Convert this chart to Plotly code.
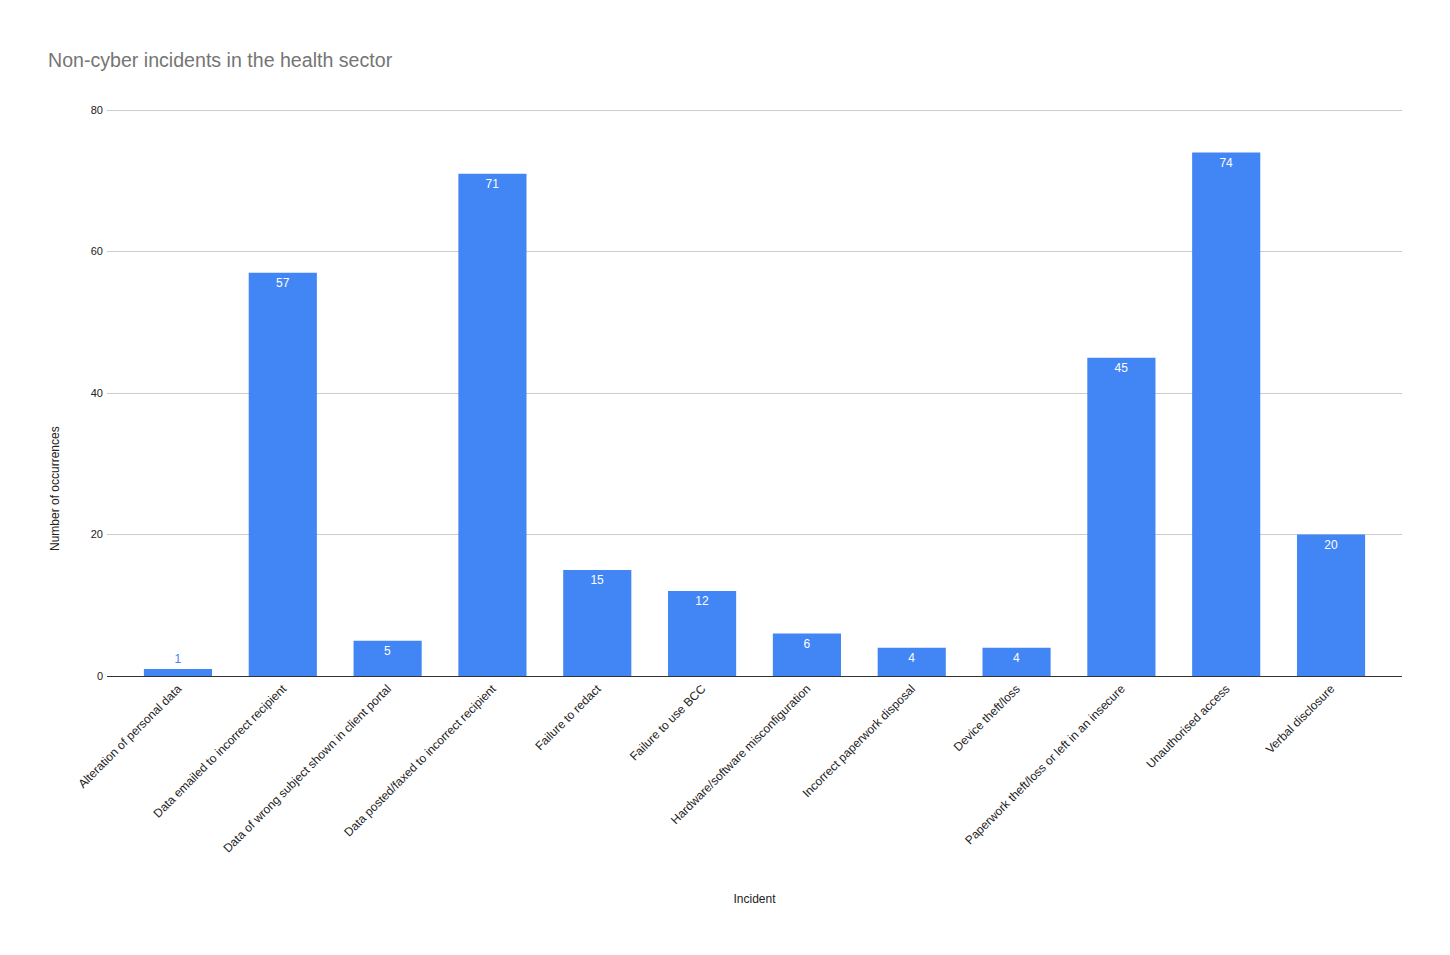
import plotly.graph_objects as go

categories = [
    "Alteration of personal data",
    "Data emailed to incorrect recipient",
    "Data of wrong subject shown in client portal",
    "Data posted/faxed to incorrect recipient",
    "Failure to redact",
    "Failure to use BCC",
    "Hardware/software misconfiguration",
    "Incorrect paperwork disposal",
    "Device theft/loss",
    "Paperwork theft/loss or left in an insecure",
    "Unauthorised access",
    "Verbal disclosure",
]
values = [1, 57, 5, 71, 15, 12, 6, 4, 4, 45, 74, 20]
y_ticks = [0, 20, 40, 60, 80]

blue = "#4285f4"
FONT = "Arial, Liberation Sans, sans-serif"

fig = go.Figure(
    go.Bar(
        x=categories,
        y=values,
        marker=dict(color=blue, line=dict(width=0)),
        text=[str(v) for v in values],
        textposition="auto",
        insidetextanchor="end",
        insidetextfont=dict(color="white", size=12, family=FONT),
        outsidetextfont=dict(color=blue, size=12, family=FONT),
        cliponaxis=False,
    )
)

fig.update_layout(
    width=1450,
    height=955,
    paper_bgcolor="white",
    plot_bgcolor="white",
    bargap=0.35,
    margin=dict(l=107, r=48, t=108, b=279),
    title=dict(
        text="Non-cyber incidents in the health sector",
        x=48 / 1450,
        xanchor="left",
        y=1 - 60 / 955,
        yanchor="middle",
        font=dict(family=FONT, size=19.6, color="#757575"),
    ),
    font=dict(family=FONT, size=12, color="#222222"),
    showlegend=False,
    annotations=[
        dict(
            text="Number of occurrences",
            xref="paper",
            yref="paper",
            x=(55 - 107) / (1450 - 107 - 48),
            y=(676 - 489) / (955 - 108 - 279),
            xanchor="center",
            yanchor="middle",
            textangle=-90,
            showarrow=False,
            font=dict(size=12, color="#222222", family=FONT),
        )
    ],
)

fig.update_xaxes(
    range=[-0.677, 11.677],
    tickangle=-45,
    tickfont=dict(size=12, color="#222222"),
    showline=True,
    linecolor="#333333",
    linewidth=1,
    ticks="",
    title=dict(text="Incident", font=dict(size=12, color="#222222"), standoff=40),
    automargin=False,
)

fig.update_yaxes(
    range=[0, 80.3],
    tickvals=y_ticks,
    showgrid=True,
    gridcolor="#cccccc",
    zeroline=False,
    tickfont=dict(size=11, color="#222222"),
    ticks="",
    ticklen=0,
    ticklabelstandoff=3,
    automargin=False,
)

fig.write_html("out.html")
